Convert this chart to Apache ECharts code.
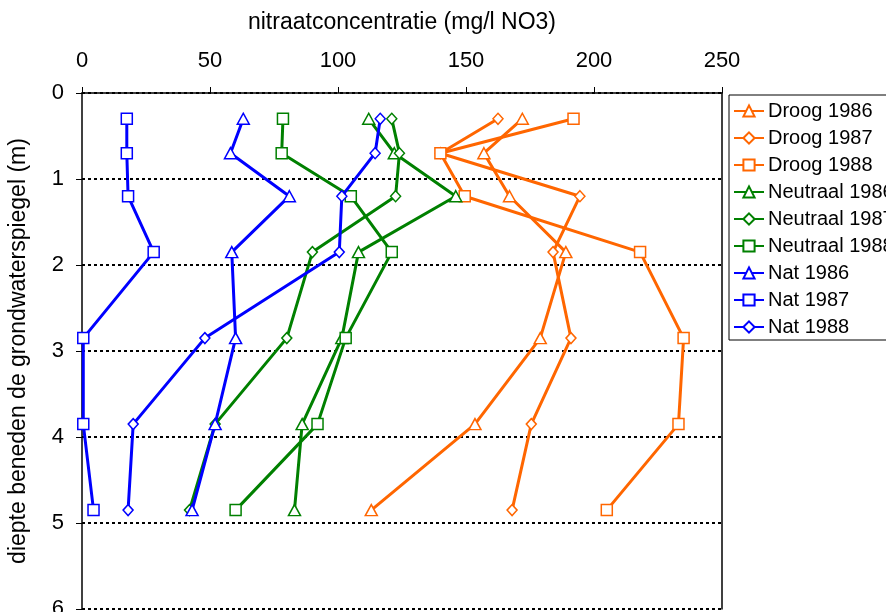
<!DOCTYPE html>
<html>
<head>
<meta charset="utf-8">
<script src="https://cdn.jsdelivr.net/npm/echarts@6/dist/echarts.min.js"></script>
<style>html,body{margin:0;padding:0;background:#fff;}#c{width:886px;height:612px;}</style>
</head>
<body>
<div id="c"></div>
<script>
const depths = [0.3, 0.7, 1.2, 1.85, 2.85, 3.85, 4.85];
const xTicks = [0, 50, 100, 150, 200, 250];
const yTicks = [0, 1, 2, 3, 4, 5, 6];
const seriesNames = ['Droog 1986','Droog 1987','Droog 1988','Neutraal 1986','Neutraal 1987','Neutraal 1988','Nat 1986','Nat 1987','Nat 1988'];
const droog1986 = [172, 157, 167, 189, 179, 153.5, 113];
const droog1987 = [162.5, 140, 194.5, 184, 191, 175.5, 168];
const droog1988 = [192, 140, 149.5, 218, 235, 233, 205];
const neutraal1986 = [112, 122, 146, 108, 101.5, 86, 83];
const neutraal1987 = [121, 124, 122.5, 90, 80, 52, 42];
const neutraal1988 = [78.5, 78, 105, 121, 103, 92, 60];
const nat1986 = [63, 58, 81, 58.5, 60, 52, 43];
const nat1987 = [17.5, 17.5, 18, 28, 0.5, 0.5, 4.5];
const nat1988 = [116.5, 114.5, 101.5, 100.5, 48, 20, 18];

const values = [droog1986, droog1987, droog1988, neutraal1986, neutraal1987, neutraal1988, nat1986, nat1987, nat1988];
const colors = ['#FF6600','#FF6600','#FF6600','#008000','#008000','#008000','#0000FF','#0000FF','#0000FF'];
const symbols = ['triangle','diamond','rect','triangle','diamond','rect','triangle','rect','diamond'];
const symSize = {triangle: [12, 11], diamond: [10, 11], rect: [11, 11]};

const font = '"Liberation Sans", Arial, sans-serif';
const chart = echarts.init(document.getElementById('c'), null, {renderer:'canvas'});
const series = seriesNames.map((n, i) => ({
  name: n,
  type: 'line',
  data: values[i].map((v, j) => [v, depths[j]]),
  symbol: symbols[i],
  symbolSize: symSize[symbols[i]],
  showAllSymbol: true,
  color: colors[i],
  lineStyle: {color: colors[i], width: 3},
  itemStyle: {color: '#ffffff', borderColor: colors[i], borderWidth: 1.5},
  emphasis: {disabled: true},
  animation: false,
  z: 2 + i
}));

chart.setOption({
  animation: false,
  backgroundColor: '#ffffff',
  grid: {left: 82, right: 164, top: 93, bottom: 3, containLabel: false, outerBoundsMode: 'none'},
  xAxis: {
    type: 'value', position: 'top', min: 0, max: 250, interval: 50,
    name: 'nitraatconcentratie (mg/l NO3)', nameLocation: 'middle', nameGap: 59,
    nameTextStyle: {fontFamily: font, fontSize: 23, color: '#000'},
    axisLine: {show: true, lineStyle: {color: '#000', width: 1.5}},
    axisTick: {show: true, length: 6, lineStyle: {color: '#000', width: 1}},
    axisLabel: {fontFamily: font, fontSize: 22, color: '#000', margin: 21,
      formatter: v => xTicks.includes(v) ? String(v) : ''},
    splitLine: {show: false}
  },
  yAxis: [{
    type: 'value', inverse: true, min: 0, max: 6, interval: 1,
    name: 'diepte beneden de grondwaterspiegel (m)', nameLocation: 'middle', nameGap: 52,
    nameTextStyle: {fontFamily: font, fontSize: 23, color: '#000'},
    axisLine: {show: true, lineStyle: {color: '#000', width: 1.5}},
    axisTick: {show: true, length: 6, lineStyle: {color: '#000', width: 1}},
    axisLabel: {fontFamily: font, fontSize: 22, color: '#000', margin: 18,
      formatter: v => yTicks.includes(v) ? String(v) : ''},
    splitLine: {show: true, lineStyle: {color: '#000', width: 2, type: [3, 3]}}
  }, {
    type: 'value', inverse: true, min: 0, max: 6, interval: 1, position: 'right',
    axisLine: {show: true, lineStyle: {color: '#000', width: 1.5}},
    axisTick: {show: false}, axisLabel: {show: false}, splitLine: {show: false}
  }],
  legend: {
    orient: 'vertical', left: 729, top: 95,
    padding: [6, 40, 3, 4],
    borderColor: '#000', borderWidth: 1,
    itemWidth: 30, itemHeight: 14, itemGap: 7,
    textStyle: {fontFamily: font, fontSize: 20, color: '#000', lineHeight: 20, padding: [0,0,0,-1]},
    data: seriesNames
  },
  series: series
});
</script>
</body>
</html>
